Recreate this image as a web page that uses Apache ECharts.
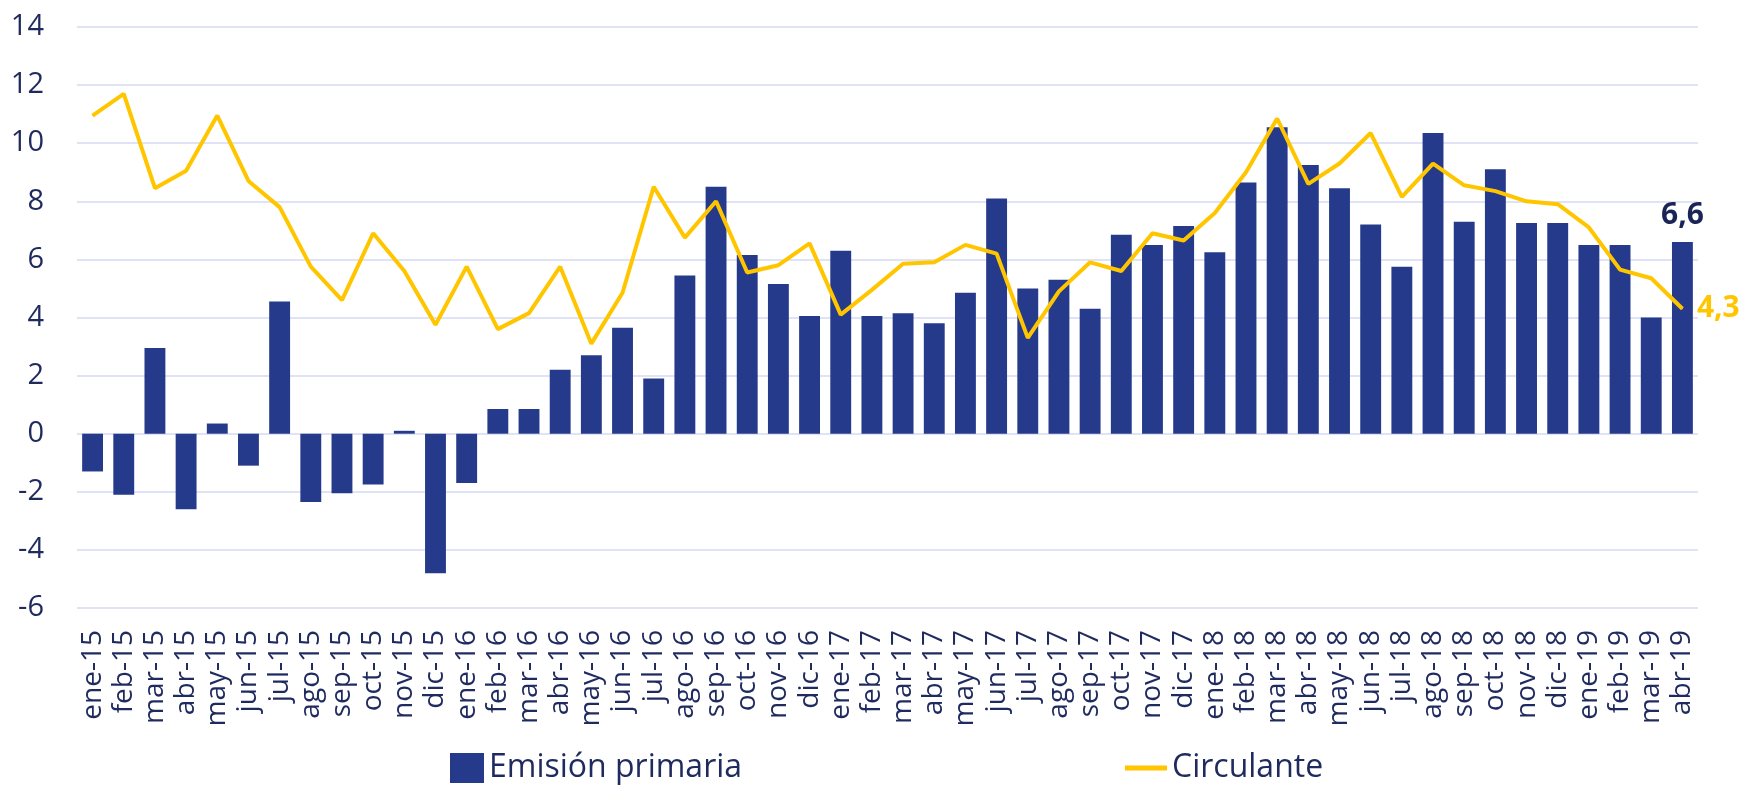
<!DOCTYPE html>
<html>
<head>
<meta charset="utf-8">
<script src="https://cdn.jsdelivr.net/npm/echarts@6/dist/echarts.min.js"></script>
<style>
  html, body { margin: 0; padding: 0; background: #ffffff; }
  #container1 { width: 1743px; height: 788px; }
</style>
</head>
<body>
<div id="container1"></div>
<script>
var meses = ['ene-15', 'feb-15', 'mar-15', 'abr-15', 'may-15', 'jun-15', 'jul-15', 'ago-15', 'sep-15', 'oct-15', 'nov-15', 'dic-15',
             'ene-16', 'feb-16', 'mar-16', 'abr-16', 'may-16', 'jun-16', 'jul-16', 'ago-16', 'sep-16', 'oct-16', 'nov-16', 'dic-16',
             'ene-17', 'feb-17', 'mar-17', 'abr-17', 'may-17', 'jun-17', 'jul-17', 'ago-17', 'sep-17', 'oct-17', 'nov-17', 'dic-17',
             'ene-18', 'feb-18', 'mar-18', 'abr-18', 'may-18', 'jun-18', 'jul-18', 'ago-18', 'sep-18', 'oct-18', 'nov-18', 'dic-18',
             'ene-19', 'feb-19', 'mar-19', 'abr-19'];

var emisionPrimaria = [-1.3, -2.1, 2.95, -2.6, 0.35, -1.1, 4.55, -2.35, -2.05, -1.75, 0.1, -4.8,
                       -1.7, 0.85, 0.85, 2.2, 2.7, 3.65, 1.9, 5.45, 8.5, 6.15, 5.15, 4.05,
                       6.3, 4.05, 4.15, 3.8, 4.85, 8.1, 5.0, 5.3, 4.3, 6.85, 6.5, 7.15,
                       6.25, 8.65, 10.55, 9.25, 8.45, 7.2, 5.75, 10.35, 7.3, 9.1, 7.25, 7.25,
                       6.5, 6.5, 4.0, 6.6];

var circulante = [10.95, 11.7, 8.45, 9.05, 10.95, 8.7, 7.8, 5.75, 4.6, 6.9, 5.6, 3.75,
                  5.75, 3.6, 4.15, 5.75, 3.1, 4.85, 8.5, 6.75, 8.0, 5.55, 5.8, 6.55,
                  4.1, 4.95, 5.85, 5.9, 6.5, 6.2, 3.3, 4.9, 5.9, 5.6, 6.9, 6.65,
                  7.6, 9.0, 10.85, 8.6, 9.3, 10.35, 8.15, 9.3, 8.55, 8.35, 8.0, 7.9,
                  7.1, 5.65, 5.35, 4.3];

var yMin = -6, yMax = 14, yPaso = 2;

var azul = '#263a8c';
var amarillo = '#ffc600';
var texto = '#1f2a5e';
var fuente = 'Open Sans';

// solo se etiqueta el ultimo dato de cada serie
function etiquetaFinal(p) {
    if (p.dataIndex !== meses.length - 1) return '';
    return p.value.toFixed(1).replace('.', ',');
}

var dom = document.getElementById("container1");
var myChart = echarts.init(dom);
var option = {
    animation: false,
    textStyle: { fontFamily: fuente },
    grid: {
        left: 77,
        right: 45,
        top: 27,
        bottom: 180
    },
    legend: [
        {
            data: ['Emisión primaria'],
            left: 445,
            top: 747,
            icon: 'rect',
            itemWidth: 34,
            itemHeight: 30,
            textStyle: { color: texto, fontSize: 32, fontFamily: fuente }
        },
        {
            data: ['Circulante'],
            left: 1120,
            top: 747,
            icon: 'rect',
            itemWidth: 42,
            itemHeight: 5,
            textStyle: { color: texto, fontSize: 32, fontFamily: fuente }
        }
    ],
    xAxis: {
        type: 'category',
        data: meses,
        axisLine: { show: false, onZero: false },
        axisTick: { show: false },
        axisLabel: {
            rotate: 90,
            interval: 0,
            margin: 22,
            color: texto,
            fontSize: 28,
            fontFamily: fuente
        }
    },
    yAxis: {
        type: 'value',
        min: yMin,
        max: yMax,
        interval: yPaso,
        axisLine: { show: false },
        axisTick: { show: false },
        axisLabel: {
            margin: 33,
            color: texto,
            fontSize: 29,
            fontFamily: fuente
        },
        splitLine: {
            lineStyle: { color: '#d5daf2', width: 1.5 }
        }
    },
    series: [
        {
            name: 'Emisión primaria',
            type: 'bar',
            data: emisionPrimaria,
            barCategoryGap: '33%',
            itemStyle: { color: azul },
            label: {
                show: true,
                position: 'top',
                distance: 12,
                formatter: etiquetaFinal,
                color: '#1a2456',
                fontSize: 30,
                fontWeight: 'bold',
                fontFamily: fuente
            }
        },
        {
            name: 'Circulante',
            type: 'line',
            data: circulante,
            showSymbol: true,
            symbol: 'circle',
            symbolSize: 1,
            lineStyle: { color: amarillo, width: 4 },
            itemStyle: { color: amarillo },
            label: {
                show: true,
                position: 'right',
                distance: 14,
                formatter: etiquetaFinal,
                color: amarillo,
                fontSize: 30,
                fontWeight: 'bold',
                fontFamily: fuente
            }
        }
    ]
};
if (option && typeof option === "object") {
    myChart.setOption(option, true);
}
</script>
</body>
</html>
